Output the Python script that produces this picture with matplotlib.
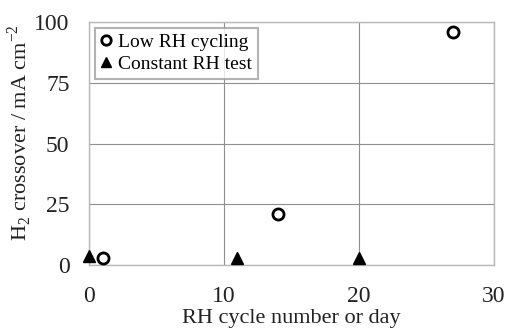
import matplotlib
matplotlib.use("Agg")
from matplotlib import pyplot as plt

plt.rcParams['font.family'] = ['Liberation Serif', 'DejaVu Serif']
plt.rcParams['mathtext.fontset'] = 'custom'
plt.rcParams['mathtext.rm'] = 'Liberation Serif'

# H2 crossover data
cycle_x = [1, 14, 27]
cycle_y = [3, 21, 96]
const_x = [0, 11, 20]
const_y = [3.5, 3, 3]

xticks = [0, 10, 20, 30]
yticks = [0, 25, 50, 75, 100]

fig = plt.figure(figsize=(5.06, 3.31), dpi=100)
ax = fig.add_axes([89 / 506, 1 - 265 / 331, 405 / 506, 243 / 331])

ax.plot(cycle_x, cycle_y, linestyle='none', marker='o', markersize=8,
        markerfacecolor='white', markeredgecolor='black', markeredgewidth=2,
        label='Low RH cycling', clip_on=False, zorder=3)
ax.plot(const_x, const_y, linestyle='none', marker='^', markersize=8.5,
        color='black', label='Constant RH test', clip_on=False, zorder=3)

ax.set_xlim(0, 30)
ax.set_ylim(0, 100)
ax.set_xticks(xticks)
ax.set_yticks(yticks)
ax.tick_params(length=0, labelsize=17, colors='#222222')
ax.tick_params(axis='x', pad=15)
ax.tick_params(axis='y', pad=14)
ax.grid(True, color='#909090', linewidth=0.8)
ax.set_axisbelow(True)
for s in ax.spines.values():
    s.set_color('#b8b8b8')
    s.set_linewidth(1.0)

ax.set_xlabel('RH cycle number or day', fontsize=16, color='#222222')
ax.set_ylabel(r'H$_2$ crossover / mA cm$^{-2}$', fontsize=16, color='#222222')
ax.xaxis.set_label_coords(0.5, -0.18)
ax.yaxis.set_label_coords(-0.135, 0.545)

leg = ax.legend(loc='upper left', fontsize=14, frameon=True, fancybox=False,
                handlelength=0.6, handletextpad=0.3, borderpad=0.3,
                labelspacing=0.2, borderaxespad=0.3, markerscale=0.85)
leg.get_frame().set_edgecolor('#a0a0a0')
leg.get_frame().set_linewidth(1.5)

fig.savefig('out.png', dpi=100)
